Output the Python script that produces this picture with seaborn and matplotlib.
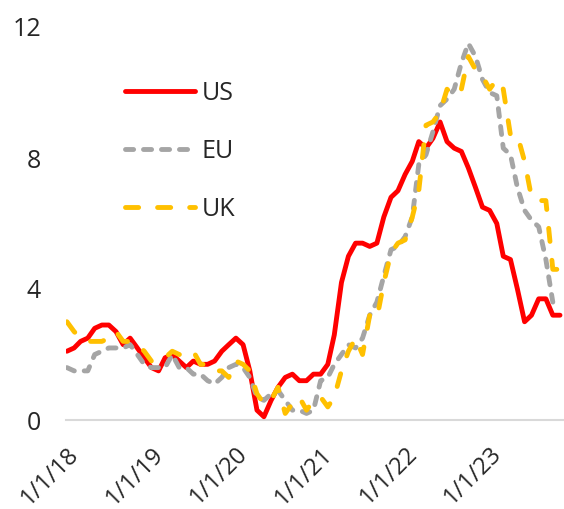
import numpy as np
import pandas as pd
import matplotlib
matplotlib.use("Agg")
import matplotlib.pyplot as plt
import seaborn as sns

# ---- data (YoY inflation, %) ----
us = [2.1, 2.2, 2.4, 2.5, 2.8, 2.9, 2.9, 2.7, 2.3, 2.5, 2.2, 1.9,
      1.6, 1.5, 1.9, 2.0, 1.8, 1.6, 1.8, 1.7, 1.7, 1.8, 2.1, 2.3,
      2.5, 2.3, 1.5, 0.3, 0.1, 0.6, 1.0, 1.3, 1.4, 1.2, 1.2, 1.4,
      1.4, 1.7, 2.6, 4.2, 5.0, 5.4, 5.4, 5.3, 5.4, 6.2, 6.8, 7.0,
      7.5, 7.9, 8.5, 8.3, 8.6, 9.1, 8.5, 8.3, 8.2, 7.7, 7.1, 6.5,
      6.4, 6.0, 5.0, 4.9, 4.0, 3.0, 3.2, 3.7, 3.7, 3.2, 3.2]
eu = [1.6, 1.5, 1.5, 1.5, 2.0, 2.1, 2.2, 2.2, 2.2, 2.3, 2.0, 1.7,
      1.6, 1.6, 1.6, 2.0, 1.6, 1.6, 1.4, 1.4, 1.2, 1.1, 1.3, 1.6,
      1.7, 1.6, 1.3, 0.7, 0.6, 0.8, 0.9, 0.6, 0.3, 0.3, 0.2, 0.3,
      1.2, 1.3, 1.7, 2.0, 2.3, 2.2, 2.5, 3.2, 3.6, 4.4, 5.2, 5.3,
      5.6, 6.2, 7.8, 8.1, 8.8, 9.6, 9.8, 10.1, 10.9, 11.5, 11.1, 10.4,
      10.0, 9.9, 8.3, 8.1, 7.1, 6.4, 6.1, 5.9, 4.9, 3.6]
uk = [3.0, 2.7, 2.5, 2.4, 2.4, 2.4, 2.5, 2.7, 2.4, 2.4, 2.3, 2.1,
      1.8, 1.9, 1.9, 2.1, 2.0, 2.0, 2.1, 1.7, 1.7, 1.5, 1.5, 1.3,
      1.8, 1.7, 1.5, 0.8, 0.5, 0.6, 1.0, 0.2, 0.5, 0.7, 0.3, 0.6,
      0.7, 0.4, 0.7, 1.5, 2.1, 2.5, 2.0, 3.2, 3.1, 4.2, 5.1, 5.4,
      5.5, 6.2, 7.0, 9.0, 9.1, 9.4, 10.1, 9.9, 10.1, 11.1, 10.7, 10.5,
      10.1, 10.4, 10.1, 8.7, 8.7, 7.9, 6.8, 6.7, 6.7, 4.6, 4.6]
series_names = ["US", "EU", "UK"]
start_month = "2018-01-01"
y_ticks = [0, 4, 8, 12]
x_tick_labels = ["1/1/18", "1/1/19", "1/1/20", "1/1/21", "1/1/22", "1/1/23"]

# ---- build long table ----
frames = []
for name, vals in zip(series_names, [us, eu, uk]):
    dates = pd.date_range(start_month, periods=len(vals), freq="MS")
    frames.append(pd.DataFrame({"date": dates, "value": vals, "series": name}))
df = pd.concat(frames, ignore_index=True)

sns.set_style("white")
plt.rcParams["font.family"] = ["Open Sans", "DejaVu Sans"]
plt.rcParams["lines.dash_capstyle"] = "round"
plt.rcParams["lines.solid_capstyle"] = "round"
plt.rcParams["lines.solid_joinstyle"] = "round"
plt.rcParams["lines.dash_joinstyle"] = "round"

fig = plt.figure(figsize=(5.64, 5.09), dpi=100)
ax = fig.add_axes([66/564, 1 - 420/509, (563-66)/564, (420-27)/509])

palette = {"US": "#FF0000", "EU": "#A5A5A5", "UK": "#FFC000"}
dashes = {"US": "", "EU": (1.67, 2.03), "UK": (2.7, 3.9)}
sns.lineplot(data=df, x="date", y="value", hue="series", style="series",
             palette=palette, dashes=dashes, linewidth=3.5, ax=ax,
             hue_order=series_names, style_order=series_names, legend=False)

ax.set_ylim(0, 12)
ax.set_yticks(y_ticks)
ax.set_yticklabels([str(t) for t in y_ticks])
x0 = pd.Timestamp(start_month) - pd.Timedelta(days=4)
ax.set_xlim(x0, x0 + pd.Timedelta(days=2147))
tick_dates = pd.date_range(start_month, periods=len(x_tick_labels), freq="YS")
ax.set_xticks(tick_dates)
ax.set_xticklabels(x_tick_labels, rotation=45, ha="right", va="top",
                   rotation_mode="anchor")
ax.tick_params(axis="y", length=0, pad=18, labelsize=18)
ax.tick_params(axis="x", length=0, pad=16, labelsize=17)
ax.set_xlabel("")
ax.set_ylabel("")
for s in ["top", "right", "left"]:
    ax.spines[s].set_visible(False)
ax.spines["bottom"].set_color("#D9D9D9")
ax.spines["bottom"].set_linewidth(1.5)
ax.spines["bottom"].set_zorder(0)

handles = ax.get_lines()[:3]
ax.legend(handles, series_names, loc="upper left", bbox_to_anchor=(125/564, 1 - 81/509),
          bbox_transform=fig.transFigure, frameon=False, fontsize=18,
          handlelength=2.8, handletextpad=0.28, labelspacing=1.32,
          borderpad=0, borderaxespad=0)

fig.savefig("out.png", dpi=100)
